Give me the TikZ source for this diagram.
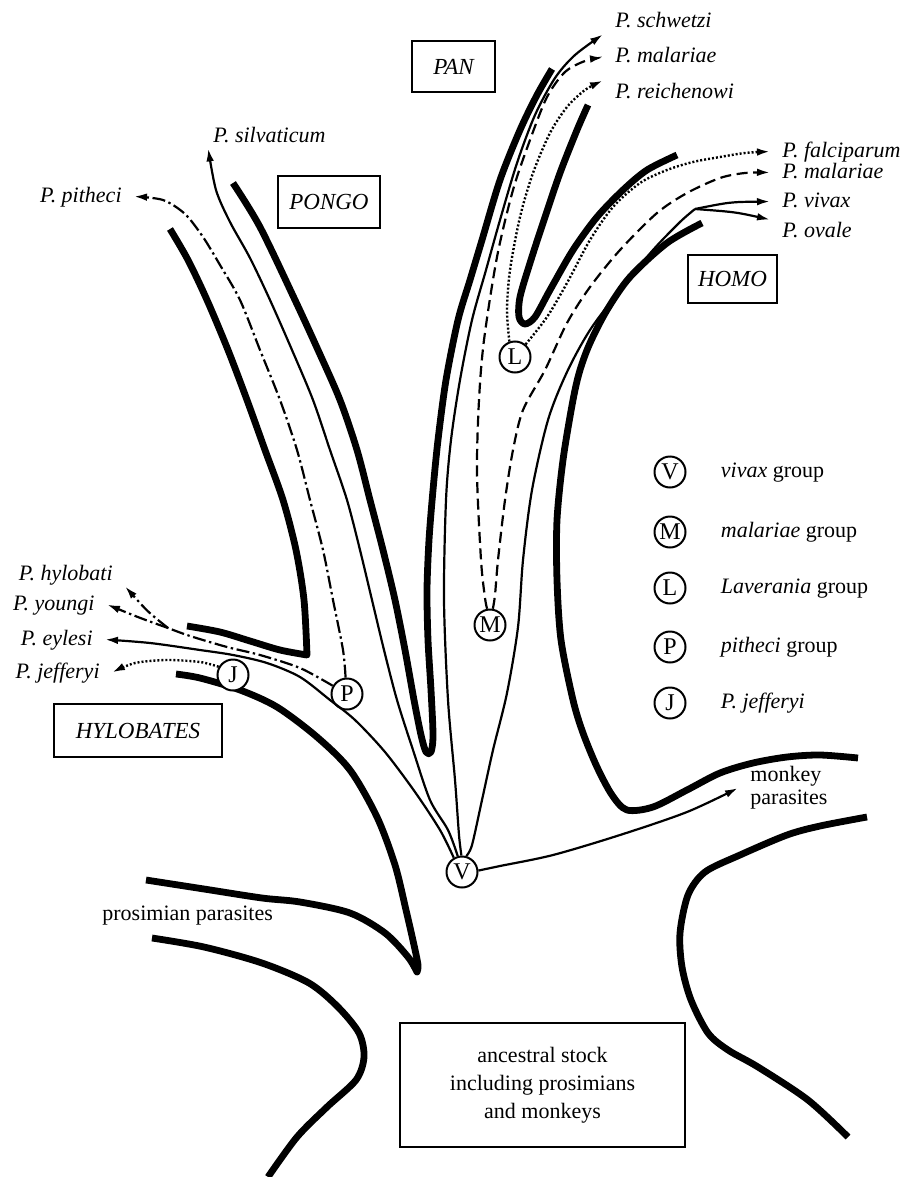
\documentclass[tikz,border=0pt]{standalone}
\usepackage{fontspec}
\setmainfont{Liberation Serif}
\usetikzlibrary{arrows.meta,positioning}

\begin{document}
\begin{tikzpicture}[x=0.5pt, y=-0.5pt, >={Latex[length=6.5pt,width=3.8pt]},
	every node/.style={font=\fontsize{11}{13}\selectfont},
	wall/.style={line width=3.4pt, line join=round},
	vline/.style={line width=1.1pt},
	mline/.style={line width=1.1pt, dash pattern=on 5.5pt off 2.8pt},
	lline/.style={line width=1.2pt, dash pattern=on 1pt off 1pt},
	pline/.style={line width=1.1pt, dash pattern=on 6.5pt off 1.8pt on 1.2pt off 1.8pt},
	grp/.style={circle, draw, fill=white, line width=1pt, minimum size=15.5pt, inner sep=0pt, font=\fontsize{12}{13}\selectfont},
	lab/.style={font=\fontsize{11}{13}\selectfont\itshape, inner xsep=6pt, inner ysep=1pt, text height=7.5pt, text depth=2pt},
	genus/.style={draw, line width=1.4pt, inner sep=0pt, font=\fontsize{11.5}{13}\selectfont\itshape}]
	\useasboundingbox (0,0) rectangle (903,1177);
	% thick outlines of the tree
	\draw[wall] plot[smooth] coordinates {(170,229) (188,260) (207,300) (228,350) (247,400) (265,450) (283,500) (296,550) (304,600) (307,655)}
		-- plot[smooth] coordinates {(307,655) (280,650) (250,641) (220,632) (187,626)};
	\draw[wall] plot[smooth] coordinates {(233,183) (260,227) (295,300) (318,350) (340,400) (357,450) (370,500) (383,550) (395,600) (405,650) (414,700) (421,735) (426,752) (431,752) (433,735) (431,690) (428,640) (427,590) (429,540) (433,490) (438,440) (446,380) (458,320) (470,280) (482,240) (500,180) (520,130) (537,95) (552,69)};
	\draw[wall] plot[smooth] coordinates {(588,105) (577,130) (560,173) (543,223) (530,263) (520,297) (519,317) (525,324) (535,317) (550,290) (573,250) (597,217) (623,190) (647,170) (677,155)};
	\draw[wall] plot[smooth] coordinates {(702,223) (667,243) (630,277) (607,310) (590,343) (580,370) (573,400) (563,460) (557,520) (557,580) (561,640) (573,700) (583,733) (597,767) (612,795) (627,810) (653,807) (687,790) (720,773) (753,763) (787,757) (820,755) (858,758)};
	\draw[wall] plot[smooth] coordinates {(867,817) (820,826) (787,835) (740,855) (705,872) (688,895) (680,933) (682,967) (691,1000) (708,1033) (728,1050) (758,1067) (808,1100) (848,1137)};
	\draw[wall] plot[smooth] coordinates {(152,938) (204,947) (262,963) (309,983) (338,1007) (359,1033) (364,1057) (356,1080) (327,1107) (297,1137) (268,1177)};
	\draw[wall] plot[smooth] coordinates {(176,674) (200,678) (240,690) (277,707) (317,737) (350,770) (377,817) (395,865) (406,910) (414,945) (418,965) (417,972)}
		-- plot[smooth] coordinates {(417,972) (408,957) (385,933) (350,913) (300,902) (262,898) (204,889) (146,880)};

	% groups
	\node[grp] (V) at (462,872) {V};
	\node[grp] (M) at (490,625) {M};
	\node[grp] (L) at (515,357) {L};
	\node[grp] (P) at (347,694) {P};
	\node[grp] (J) at (233,675) {J};
	\coordinate (hfork) at (695,209);
	\coordinate (pfork) at (168,628);

	% species
	\node[lab, anchor=base west] (schwetzi) at (603,28) {P. schwetzi};
	\node[lab, anchor=base west] (malA) at (603,63) {P. malariae};
	\node[lab, anchor=base west] (reichenowi) at (603,98) {P. reichenowi};
	\node[lab, anchor=base west] (falciparum) at (770,157) {P. falciparum};
	\node[lab, anchor=base west] (malB) at (770,178) {P. malariae};
	\node[lab, anchor=base west] (vivax) at (770,207) {P. vivax};
	\node[lab, anchor=base west] (ovale) at (770,237) {P. ovale};
	\node[lab, anchor=base west] (silvaticum) at (201,142) {P. silvaticum};
	\node[lab, anchor=base east] (pitheci) at (134,202) {P. pitheci};
	\node[lab, anchor=base east] (hylobati) at (125,580) {P. hylobati};
	\node[lab, anchor=base east] (youngi) at (107,610) {P. youngi};
	\node[lab, anchor=base east] (eylesi) at (105,645) {P. eylesi};
	\node[lab, anchor=base east] (jefferyi) at (112,678) {P. jefferyi};
	\node[anchor=base west, inner sep=0pt] (prosim) at (102,920) {prosimian parasites};
	\node[anchor=west, align=left, inner xsep=6pt, inner ysep=1pt, font=\fontsize{11}{11.5}\selectfont] (monkey) at (738,788) {monkey\\parasites};

	% hosts
	\node[genus, minimum width=41.5pt, minimum height=25.5pt] (pan) at (453.5,66.5) {PAN};
	\node[genus, minimum width=51pt, minimum height=26pt] (pongo) at (329,202) {PONGO};
	\node[genus, minimum width=44.5pt, minimum height=24pt] (homo) at (732.5,279) {HOMO};
	\node[genus, minimum width=84pt, minimum height=26.5pt] (hylobates) at (138,730.5) {HYLOBATES};
	\node[draw, line width=1.4pt, minimum width=142.5pt, minimum height=62pt, align=center, font=\fontsize{11}{14}\selectfont] (stock) at (542.5,1085) {ancestral stock\\including prosimians\\and monkeys};

	% vivax lines
	\draw[vline,->] plot[smooth] coordinates {(V.120) (440,830) (415,792) (385,752) (355,720) (330,700) (300,677) (267,663) (233,655) (200,650) (150,643) (eylesi.east)};
	\draw[vline,->] plot[smooth] coordinates {(V.105) (448,830) (430,800) (413,750) (397,700) (384,650) (372,600) (360,550) (347,500) (330,450) (313,400) (292,350) (270,300) (250,258) (230,222) (216,190) (silvaticum.191)};
	\draw[vline,->] plot[smooth] coordinates {(V.92) (459,835) (455,780) (448,700) (444,600) (446,500) (451,440) (460,380) (472,320) (486,270) (500,220) (517,163) (535,115) (555,78) (575,55) (schwetzi.south west)};
	\draw[vline] plot[smooth] coordinates {(V.75) (472,845) (482,800) (493,750) (507,693) (518,627) (523,560) (532,490) (548,420) (567,372) (590,330) (620,290) (653,250) (680,222) (hfork)};
	\draw[vline,->] (hfork) .. controls (730,202) .. (vivax.west);
	\draw[vline,->] (hfork) .. controls (735,212) .. (ovale.north west);
	\draw[vline,->] plot[smooth] coordinates {(V.5) (500,866) (553,855) (620,835) (687,812) (monkey.west)};
	% malariae lines
	\draw[mline,->] plot[smooth] coordinates {(M.100) (485,598) (481,560) (477,473) (479,400) (484,340) (497,257) (513,190) (530,140) (547,97) (565,72) (585,61) (malA.west)};
	\draw[mline,->] plot[smooth] coordinates {(M.80) (495,595) (498,560) (505,500) (513,450) (523,410) (545,370) (567,323) (590,287) (620,250) (657,213) (687,193) (720,178) (745,173) (malB.west)};
	% Laverania lines
	\draw[lline,->] plot[smooth] coordinates {(L.110) (507,310) (510,270) (520,217) (533,173) (550,133) (567,107) (585,90) (reichenowi.north west)};
	\draw[lline,->] plot[smooth] coordinates {(L.50) (547,317) (567,283) (590,240) (613,207) (640,183) (667,170) (693,162) (720,157) (745,153) (falciparum.west)};
	% pitheci lines
	\draw[pline,->] plot[smooth] coordinates {(P.95) (343,650) (333,600) (323,550) (310,500) (297,450) (280,400) (260,350) (240,300) (220,265) (203,237) (185,214) (163,200) (pitheci.east)};
	\draw[pline] plot[smooth] coordinates {(P.150) (300,668) (260,655) (227,647) (190,636) (pfork)};
	\draw[pline,->] (pfork) .. controls (140,618) .. (youngi.east);
	\draw[pline,->] (pfork) .. controls (148,612) .. (hylobati.south east);
	% jefferyi
	\draw[lline,->] plot[smooth] coordinates {(J.150) (200,662) (167,660) (135,663) (jefferyi.east)};

	% key
	\foreach \g/\y/\txt in {V/472/\textit{vivax} group, M/532/\textit{malariae} group, L/588/\textit{Laverania} group, P/647/\textit{pitheci} group, J/703/\textit{P. jefferyi}} {
		\node[grp] (key\g) at (670,\y) {\g};
		\node[right=16pt of key\g, inner sep=1pt, text height=7.5pt, text depth=2pt] (key\g text) {\txt};
	}
\end{tikzpicture}
\end{document}
